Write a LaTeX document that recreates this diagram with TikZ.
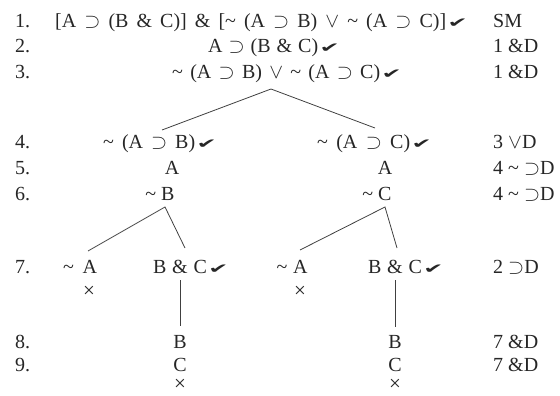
\documentclass[tikz,border=0pt]{standalone}
\usepackage{graphicx}
\usepackage{fontspec}
\setmainfont{Liberation Serif}
\newfontfamily\chkfont{DejaVu Sans}
\newcommand{\ckm}{{\chkfont\fontsize{16}{16}\selectfont\scalebox{1.5}[0.85]{✔}}}
\newcommand{\tild}{\textasciitilde}
\newcommand{\sps}{$\supset$}
\newcommand{\fw}[2]{\makebox[#1][s]{#2}}
\begin{document}
\begin{tikzpicture}[x=1pt,y=-1pt,
  every node/.style={font=\fontsize{20}{24}\selectfont, inner sep=0pt, text=black!85},
  lw/.style={anchor=base west},
  ct/.style={anchor=base},
  cross/.style={anchor=base, font=\fontsize{21}{21}\selectfont, text height=8pt, text depth=0pt},
  chk/.style={anchor=base west, xshift=1pt},
  ln/.style={line width=0.8pt, black!75}]
\useasboundingbox (0,0) rectangle (560,396);
% line numbers
\node[lw] (n1) at (15,28) {1.};
\node[lw] (n2) at (15,53) {2.};
\node[lw] (n3) at (15,78) {3.};
\node[lw] (n4) at (15,148) {4.};
\node[lw] (n5) at (15,174) {5.};
\node[lw] (n6) at (15,200) {6.};
\node[lw] (n7) at (15,273) {7.};
\node[lw] (n8) at (15,348) {8.};
\node[lw] (n9) at (15,371) {9.};
% justifications
\node[lw] (j1) at (493,28) {SM};
\node[lw] (j2) at (493,53) {1 \&D};
\node[lw] (j3) at (493,78) {1 \&D};
\node[lw] (j4) at (493,148) {3 $\vee$D};
\node[lw] (j5) at (493,174) {4 \tild\ \sps D};
\node[lw] (j6) at (493,200) {4 \tild\ \sps D};
\node[lw] (j7) at (493,273) {2 \sps D};
\node[lw] (j8) at (493,348) {7 \&D};
\node[lw] (j9) at (493,371) {7 \&D};
% formulas
\node[lw] (f1) at (55,28) {\fw{391pt}{[A \sps\ (B \& C)] \& [\tild\ (A \sps\ B) $\vee$ \tild\ (A \sps\ C)]}};
\node[chk] (c1) at (f1.base east) {\ckm};
\node[lw] (f2) at (208,53) {\fw{110pt}{A \sps\ (B \& C)}};
\node[chk] (c2) at (f2.base east) {\ckm};
\node[lw] (f3) at (172,78) {\fw{208pt}{\tild\ (A \sps\ B) $\vee$ \tild\ (A \sps\ C)}};
\node[chk] (c3) at (f3.base east) {\ckm};
\node[lw] (f4l) at (103,148) {\fw{92pt}{\tild\ (A \sps\ B)}};
\node[chk] (c4l) at (f4l.base east) {\ckm};
\node[lw] (f4r) at (317,148) {\fw{93pt}{\tild\ (A \sps\ C)}};
\node[chk] (c4r) at (f4r.base east) {\ckm};
\node[ct] (f5l) at (172,174) {A};
\node[ct] (f5r) at (385,174) {A};
\node[ct] (f6l) at (160,200) {\tild\ B};
\node[ct] (f6r) at (377,200) {\tild\ C};
\node[ct] (f7la) at (80,273) {\fw{34pt}{\tild\ A}};
\node[ct] (f7lb) at (180,273) {\fw{54pt}{B \& C}};
\node[chk] (c7l) at (f7lb.base east) {\ckm};
\node[ct] (f7ra) at (292,273) {\fw{31pt}{\tild\ A}};
\node[ct] (f7rb) at (395,273) {\fw{54pt}{B \& C}};
\node[chk] (c7r) at (f7rb.base east) {\ckm};
\node[cross] (x7l) at (89,297) {×};
\node[cross] (x7r) at (300,297) {×};
\node[ct] (f8l) at (180,348) {B};
\node[ct] (f8r) at (395,348) {B};
\node[ct] (f9l) at (180,371) {C};
\node[ct] (f9r) at (395,371) {C};
\node[cross] (x9l) at (180,390) {×};
\node[cross] (x9r) at (395,390) {×};
% branch points
\coordinate (a3) at (271,89);
\coordinate (e4l) at (162,130);
\coordinate (e4r) at (375,128);
\coordinate (a6l) at (165,207);
\coordinate (e7la) at (88,251);
\coordinate (e7lb) at (185,248);
\coordinate (a6r) at (385,207);
\coordinate (e7ra) at (300,250);
\coordinate (e7rb) at (397,248);
\coordinate (t7l) at (180,280);
\coordinate (b8l) at (180,326);
\coordinate (t7r) at (395,280);
\coordinate (b8r) at (395,327);
\draw[ln] (e4l) -- (a3) -- (e4r);
\draw[ln] (e7la) -- (a6l) -- (e7lb);
\draw[ln] (e7ra) -- (a6r) -- (e7rb);
\draw[ln] (t7l) -- (b8l);
\draw[ln] (t7r) -- (b8r);
\end{tikzpicture}
\end{document}
